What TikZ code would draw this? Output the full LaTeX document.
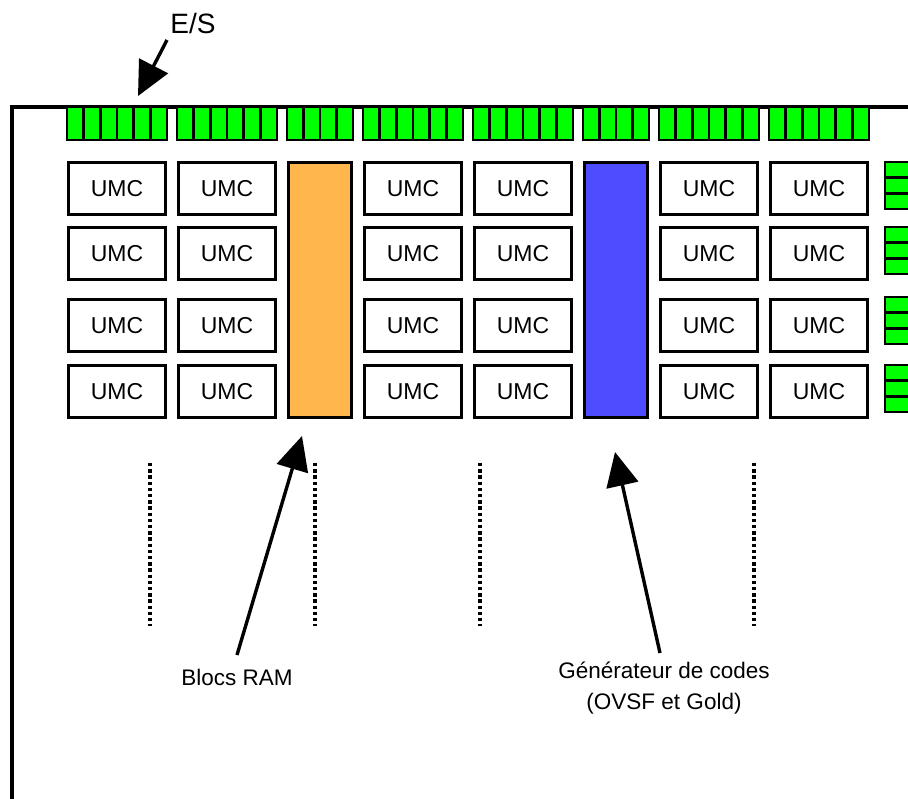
\documentclass[tikz,border=0pt]{standalone}
\usepackage{fontspec}
\setmainfont{Liberation Sans}
\usetikzlibrary{arrows.meta}
\definecolor{iogreen}{RGB}{0,255,0}
\definecolor{ramorange}{RGB}{255,182,77}
\definecolor{genblue}{RGB}{77,77,255}
\tikzset{
  frameline/.style={line width=3.2pt},
  umc/.style={draw, line width=3.2pt, fill=white, minimum width=97pt, minimum height=52pt, inner sep=0pt, font=\fontsize{23}{26}\selectfont},
  iocell/.style={draw, line width=2.8pt, fill=iogreen},
  colblock/.style={draw, line width=3.2pt, inner sep=0pt, minimum width=63pt, minimum height=255pt},
  arr/.style={line width=3.4pt, -{Triangle[length=34pt,width=32pt]}},
  dotline/.style={line width=3.6pt, dash pattern=on 3.4pt off 2.8pt},
  lbl/.style={font=\fontsize{22.5}{31}\selectfont, align=center, inner sep=0pt},
}
\begin{document}
\begin{tikzpicture}[x=1pt,y=-1pt]
\useasboundingbox (0,0) rectangle (908,799);
\clip (0,0) rectangle (908,799);
% frame
\draw[frameline] (12,800) -- (12,107) -- (910,107);
% top I/O groups
\foreach \gx/\gw/\gn in {67/100/6, 177/100/6, 287/66/4, 363/100/6, 473/100/6, 583/66/4, 659/100/6, 769/100/6}{
  \foreach \i in {1,...,\gn}{
    \pgfmathsetmacro{\xa}{\gx+(\i-1)*\gw/\gn}
    \pgfmathsetmacro{\xb}{\gx+\i*\gw/\gn}
    \draw[iocell] (\xa,107) rectangle (\xb,140);
  }
}
% right I/O groups
\foreach \ty in {162,227,297,365}{
  \foreach \i in {1,2,3}{
    \pgfmathsetmacro{\ya}{\ty+(\i-1)*15.7}
    \pgfmathsetmacro{\yb}{\ty+\i*15.7}
    \draw[iocell] (885,\ya) rectangle (930,\yb);
  }
}
% UMC grid
\foreach \cx [count=\c] in {117,227,413,523,709,819}{
  \foreach \ry [count=\r] in {188.5,253.5,325.5,391.5}{
    \node[umc] (u-\r-\c) at (\cx,\ry) {UMC};
  }
}
% RAM and code generator blocks
\node[colblock, fill=ramorange] (ram) at (320,290) {};
\node[colblock, fill=genblue] (gen) at (616,290) {};
% dotted continuation lines
\foreach \dx in {150,315,480,754}{
  \draw[dotline] (\dx,463) -- (\dx,626);
}
% labels and arrows
\node[font=\fontsize{28}{32}\selectfont, inner sep=0pt] (es) at (193,23) {E/S};
\coordinate (estail) at (167,40);
\coordinate (estip) at (138,96);
\draw[arr] (estail) -- (estip);
\node[lbl] (ramlbl) at (237,677) {Blocs RAM};
\coordinate (ramtail) at (237,655);
\coordinate (ramtip) at (302,436);
\draw[arr] (ramtail) -- (ramtip);
\node[lbl] (genlbl) at (664,688) {Générateur de codes\\(OVSF et Gold)};
\coordinate (gentail) at (660,653);
\coordinate (gentip) at (615,452);
\draw[arr] (gentail) -- (gentip);
\end{tikzpicture}
\end{document}
